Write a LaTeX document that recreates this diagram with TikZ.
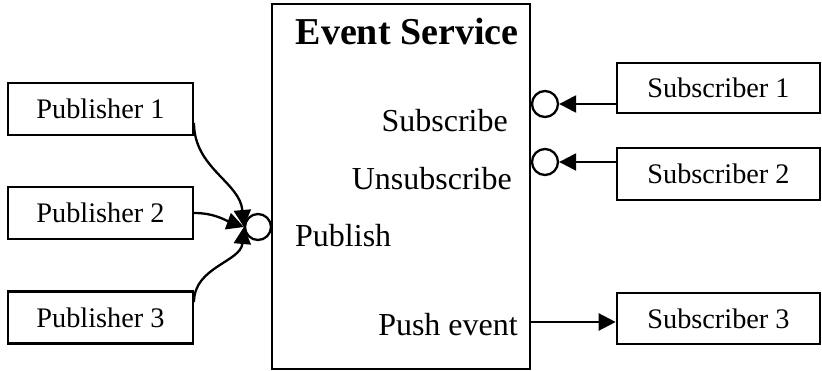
\documentclass[tikz,border=0pt]{standalone}
\usepackage{fontspec}
\setmainfont{Liberation Serif}
\usetikzlibrary{arrows.meta}
\begin{document}
\begin{tikzpicture}[x=1pt,y=-1pt,
  box/.style={draw,line width=2.6pt,inner sep=0pt},
  lbl/.style={font=\fontsize{28.3}{30}\selectfont},
  inlbl/.style={font=\fontsize{32}{34}\selectfont,inner sep=0pt},
  conn/.style={line width=2.3pt},
  arr/.style={conn,-{Triangle[length=17pt,width=17pt]}},
  port/.style={draw,circle,line width=2.3pt,minimum size=26pt,inner sep=0pt}]
\useasboundingbox (0,0) rectangle (822,371);
% main box
\node[box,minimum width=258pt,minimum height=365pt] (es) at (401,186.5) {};
\node[inner sep=0pt,anchor=base,font=\bfseries\fontsize{38}{40}\selectfont] (title) at (407,45) {Event Service};
\node[inlbl,anchor=base east] (lsub) at (508,132) {Subscribe};
\node[inlbl,anchor=base east] (lunsub) at (512,190) {Unsubscribe};
\node[inlbl,anchor=base west] (lpub) at (295,247) {Publish};
\node[inlbl,anchor=base east] (lpush) at (518,336) {Push event};
% publishers
\node[box,lbl,minimum width=185pt,minimum height=52pt] (p1) at (100.5,109) {Publisher 1};
\node[box,lbl,minimum width=185pt,minimum height=52pt] (p2) at (100.5,213) {Publisher 2};
\node[box,lbl,minimum width=185pt,minimum height=52pt] (p3) at (100.5,317.5) {Publisher 3};
% subscribers
\node[box,lbl,minimum width=203pt,minimum height=50pt] (s1) at (718.5,88) {Subscriber 1};
\node[box,lbl,minimum width=203pt,minimum height=52pt] (s2) at (718.5,174) {Subscriber 2};
\node[box,lbl,minimum width=203pt,minimum height=51pt] (s3) at (718.5,318.5) {Subscriber 3};
% ports
\node[port] (cpub) at (258,227) {};
\node[port] (csub) at (545,104) {};
\node[port] (cunsub) at (545,162) {};
% connection points
\coordinate (p1o) at (194,123);
\coordinate (p2o) at (194,213);
\coordinate (p3o) at (194,302);
\coordinate (s1o) at (617,104);
\coordinate (s2o) at (617,162);
\coordinate (pusho) at (531,322);
% publisher arrows
\draw[arr] (p1o) to[out=-90,in=95] (cpub.west);
\draw[arr] (p2o) to[out=0,in=160] (cpub.west);
\draw[arr] (p3o) to[out=90,in=-95] (cpub.west);
% subscriber arrows
\draw[arr] (s1o) -- (csub.east);
\draw[arr] (s2o) -- (cunsub.east);
\draw[arr] (pusho) -- (pusho -| s3.west);
\end{tikzpicture}
\end{document}
